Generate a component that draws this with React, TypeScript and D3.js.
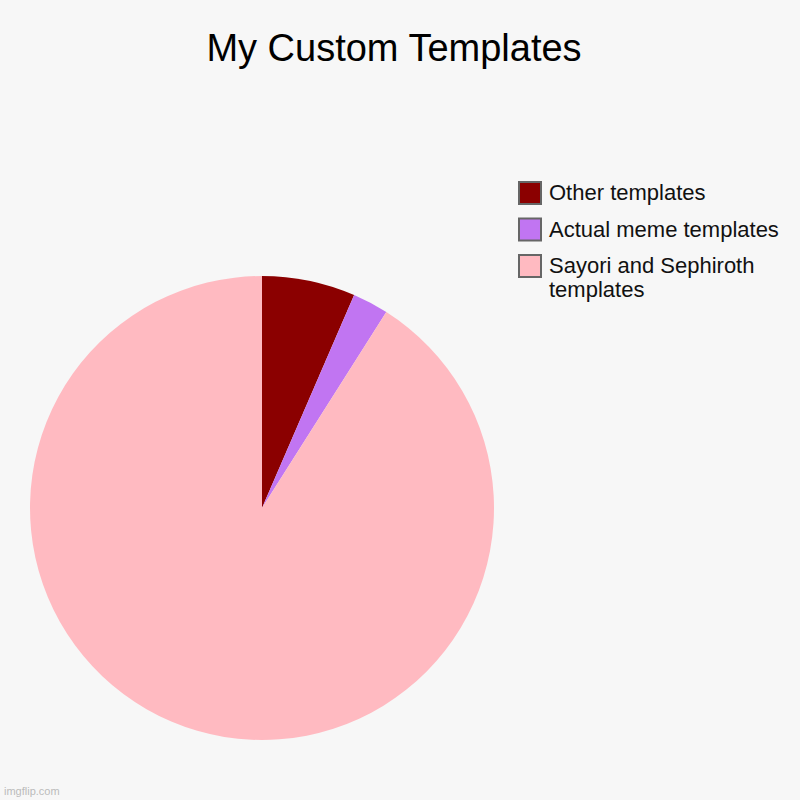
import React, { useEffect, useRef } from 'react';
import * as d3 from 'd3';

const labels = ['Other templates', 'Actual meme templates', 'Sayori and Sephiroth templates'];
const values = [6.5, 2.5, 91];
const colors = ['#8b0000', '#c175f2', '#ffbac1'];
// legend lines (the last label wraps)
const legendLines = [['Other templates'], ['Actual meme templates'], ['Sayori and Sephiroth', 'templates']];

const App: React.FC = () => {
	const ref = useRef<SVGSVGElement>(null);

	useEffect(() => {
		if (!ref.current) return;
		const svg = d3.select(ref.current);
		svg.selectAll('*').remove();

		svg.append('rect').attr('width', 800).attr('height', 800).attr('fill', '#f7f7f7');

		svg
			.append('text')
			.attr('x', 394)
			.attr('y', 61)
			.attr('text-anchor', 'middle')
			.style('font-family', 'Liberation Sans, Arial, sans-serif')
			.style('font-size', '38px')
			.attr('fill', '#000')
			.text('My Custom Templates');

		// --- Pie ---
		const radius = 232;
		const pie = d3
			.pie<number>()
			.sort(null)
			.value((d) => d);
		const arc = d3.arc<d3.PieArcDatum<number>>().innerRadius(0).outerRadius(radius);

		const g = svg.append('g').attr('transform', 'translate(262,508)');
		g.selectAll('path')
			.data(pie(values))
			.enter()
			.append('path')
			.attr('d', arc)
			.attr('fill', (d, i) => colors[i]);

		// --- Legend ---
		const legend = svg
			.append('g')
			.attr('transform', 'translate(519,182)')
			.selectAll('g')
			.data(labels)
			.enter()
			.append('g')
			.attr('transform', (d, i) => `translate(0,${i * 36.5})`);

		legend
			.append('rect')
			.attr('width', 22)
			.attr('height', 22)
			.attr('fill', (d, i) => colors[i])
			.attr('stroke', '#666')
			.attr('stroke-width', 2);

		legend
			.append('text')
			.attr('x', 30)
			.attr('y', 18)
			.style('font-family', 'Liberation Sans, Arial, sans-serif')
			.style('font-size', '22px')
			.attr('fill', '#111')
			.each(function (d, i) {
				const t = d3.select(this);
				legendLines[i].forEach((line, j) => {
					t.append('tspan').attr('x', 30).attr('dy', j === 0 ? 0 : 24).text(line);
				});
			});

		svg
			.append('text')
			.attr('x', 4)
			.attr('y', 795)
			.style('font-family', 'Liberation Sans, Arial, sans-serif')
			.style('font-size', '11px')
			.attr('fill', '#bbb')
			.text('imgflip.com');
	}, []);

	return (
		<svg
			ref={ref}
			width={800}
			height={800}
			style={{ position: 'absolute', left: 0, top: 0 }}
		/>
	);
};

export default App;
